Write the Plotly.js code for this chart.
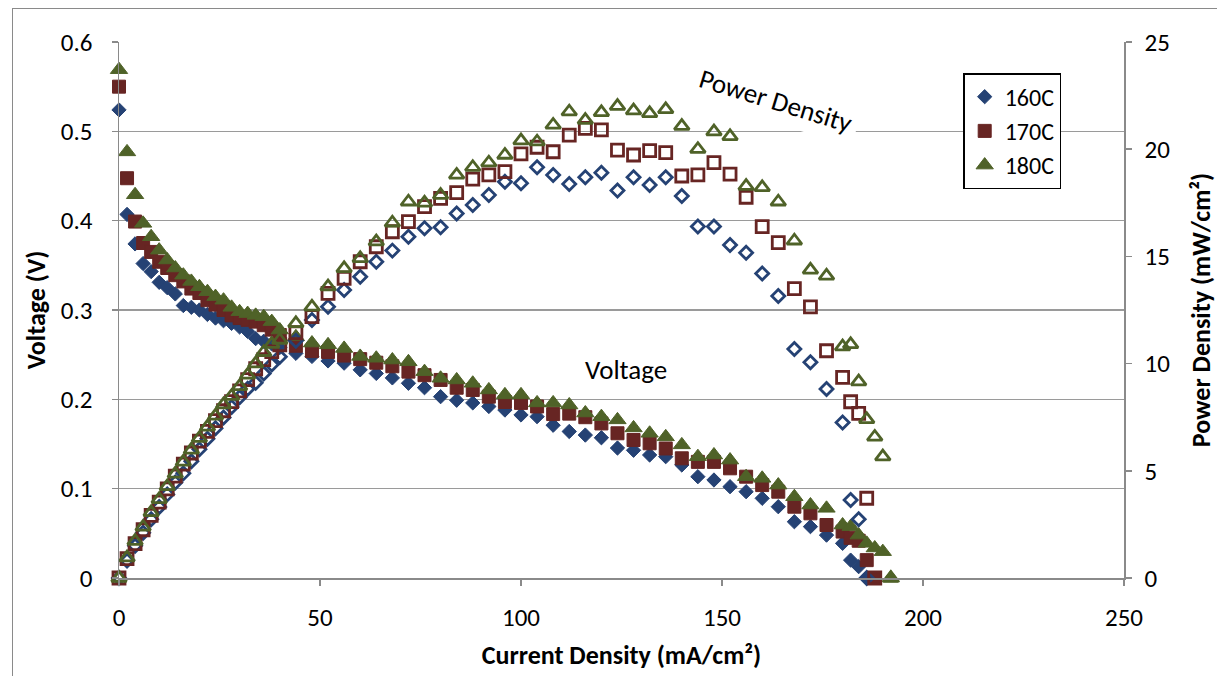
<!DOCTYPE html>
<html><head><meta charset="utf-8">
<script src="https://cdn.plot.ly/plotly-3.0.1.min.js"></script>
<style>
html,body{margin:0;padding:0;overflow:hidden;background:#fff}
#chart{width:1217px;height:676px;}
#frame{position:absolute;left:12px;top:8px;width:1300px;height:800px;border-left:1px solid #8a8a8a;border-top:1px solid #8a8a8a;pointer-events:none}
</style></head><body>
<div id="chart"></div><div id="frame"></div>
<script>
// Current density (mA/cm2)
var curr160 = [0,2,4,6,8,10,12,14,16,18,20,22,24,26,28,30,32,34,36,38,40,44,48,52,56,60,64,68,72,76,80,84,88,92,96,100,104,108,112,116,120,124,128,132,136,140,144,148,152,156,160,164,168,172,176,180,182,184,186];
var curr170 = [0,2,4,6,8,10,12,14,16,18,20,22,24,26,28,30,32,34,36,38,40,44,48,52,56,60,64,68,72,76,80,84,88,92,96,100,104,108,112,116,120,124,128,132,136,140,144,148,152,156,160,164,168,172,176,180,182,184,186,188];
var curr180 = [0,2,4,6,8,10,12,14,16,18,20,22,24,26,28,30,32,34,36,38,40,44,48,52,56,60,64,68,72,76,80,84,88,92,96,100,104,108,112,116,120,124,128,132,136,140,144,148,152,156,160,164,168,172,176,180,182,184,186,188,190,192];

// Voltage (V)
var volt160 = [0.524,0.407,0.374,0.352,0.343,0.331,0.325,0.318,0.305,0.303,0.300,0.295,0.291,0.288,0.285,0.281,0.276,0.268,0.265,0.262,0.258,
  0.2515,0.248,0.243,0.2405,0.233,0.229,0.224,0.218,0.213,0.203,0.199,0.196,0.192,0.188,0.1825,0.1806,0.171,0.164,0.160,0.157,0.1455,0.143,0.1377,0.1358,0.1265,0.1134,0.1097,0.1022,0.0966,0.0892,0.0798,0.063,0.0575,0.048,0.0388,
  0.020,0.0127,0];
var volt170 = [0.550,0.4475,0.399,0.375,0.365,0.354,0.347,0.339,0.332,0.324,0.319,0.311,0.306,0.300,0.294,0.291,0.289,0.287,0.283,0.278,0.272,
  0.260,0.254,0.253,0.249,0.245,0.241,0.237,0.231,0.227,0.2217,0.213,0.2105,0.203,0.197,0.196,0.192,0.1835,0.184,0.180,0.173,0.162,0.1545,0.1508,0.145,0.134,0.130,0.130,0.1228,0.1134,0.104,0.0966,0.0798,0.0724,0.0593,0.052,
  0.045,0.0417,0.020,0];
var volt180 = [0.569,0.477,0.429,0.397,0.382,0.367,0.356,0.347,0.339,0.332,0.326,0.3205,0.315,0.311,0.303,0.298,0.296,0.294,0.2925,0.287,0.2776,
  0.270,0.263,0.261,0.257,0.248,0.246,0.244,0.242,0.231,0.2236,0.2217,0.218,0.2105,0.205,0.205,0.196,0.196,0.1937,0.1847,0.1806,0.177,0.168,0.162,0.158,0.149,0.1358,0.1377,0.132,0.1134,0.1116,0.104,0.091,0.0817,0.078,0.0593,
  0.0575,0.048,0.0388,0.0336,0.0295,0];

// Power density (mW/cm2)
var pow160 = [0,0.81,1.50,2.11,2.74,3.31,3.90,4.45,4.88,5.45,6.00,6.49,6.98,7.49,7.98,8.43,8.83,9.11,9.54,9.96,10.32,
  11.07,12.03,12.65,13.43,14.05,14.75,15.27,15.92,16.31,16.36,17.0,17.4,17.86,18.48,18.41,19.16,18.8,18.38,18.69,18.9,18.07,18.69,18.33,18.69,17.82,16.39,16.39,15.53,15.17,14.2,13.15,10.68,10.06,8.82,7.25,
  3.64,2.74,0];
var pow170 = [0,0.90,1.60,2.25,2.92,3.54,4.16,4.75,5.31,5.83,6.38,6.84,7.34,7.80,8.23,8.73,9.25,9.76,10.19,10.56,10.88,
  11.44,12.19,13.28,13.98,14.75,15.45,16.15,16.62,17.32,17.71,17.97,18.6,18.8,18.95,19.78,20.09,19.88,20.66,20.97,20.9,19.96,19.73,19.93,19.84,18.75,18.8,19.37,18.84,17.76,16.39,15.64,13.5,12.65,10.6,9.36,
  8.22,7.68,3.72,0];
var pow180 = [0,0.95,1.72,2.38,3.06,3.67,4.27,4.86,5.42,5.98,6.52,7.05,7.56,8.09,8.48,8.94,9.47,10.0,10.53,10.91,11.10,
  11.88,12.65,13.59,14.44,14.91,15.69,16.57,17.55,17.5,17.86,18.8,19.16,19.37,19.73,20.4,20.35,21.13,21.75,21.36,21.72,22.01,21.8,21.67,21.86,21.08,20.0,20.82,20.6,18.28,18.22,17.55,15.73,14.37,14.09,10.79,
  10.9,9.16,7.4,6.58,5.66,0];

var seriesNames = ['160C','170C','180C'];
var xTicks = [0,50,100,150,200,250];

var C1 = '#254274', C2 = '#672523', C3 = '#4f6228';
var FONT = 'Carlito, Lato, sans-serif';

function vTrace(x, y, name, color, symbol, size){
  return {x:x, y:y, name:name, type:'scatter', mode:'markers', yaxis:'y', cliponaxis:false,
    legendgroup:name,
    marker:{symbol:symbol, size:size, color:color, line:{width:1, color:color}}};
}
function pTrace(x, y, name, color, symbol, size){
  return {x:x, y:y, name:name+' P', type:'scatter', mode:'markers', yaxis:'y2', cliponaxis:false,
    showlegend:false,
    marker:{symbol:symbol, size:size, color:color, line:{width:2.8, color:color}}};
}

var data = [
  vTrace(curr160, volt160, seriesNames[0], C1, 'diamond', 11),
  vTrace(curr170, volt170, seriesNames[1], C2, 'square', 13),
  vTrace(curr180, volt180, seriesNames[2], C3, 'triangle-up', 15),
  pTrace(curr160, pow160, seriesNames[0], C1, 'diamond-open', 10),
  pTrace(curr170, pow170, seriesNames[1], C2, 'square-open', 12),
  pTrace(curr180, pow180, seriesNames[2], C3, 'triangle-up-open', 13)
];

var layout = {
  width:1217, height:676,
  margin:{l:119, r:93, t:42, b:98},
  paper_bgcolor:'#ffffff', plot_bgcolor:'#ffffff',
  font:{family:FONT, size:25, color:'#000'},
  showlegend:true,
  legend:{x:0.84, y:0.942, xanchor:'left', yanchor:'top', bgcolor:'#fff',
    bordercolor:'#000', borderwidth:1.5, font:{family:FONT, size:24, color:'#000'},
    tracegroupgap:0},
  xaxis:{range:[0,250], tickvals:xTicks, ticks:'outside', ticklen:6, tickcolor:'#8a8a8a', tickwidth:1.5,
    showline:true, linecolor:'#8a8a8a', linewidth:1.5, showgrid:false, zeroline:false,
    ticklabelstandoff:10, tickfont:{family:FONT, size:25},
    title:{text:'Current Density (mA/cm²)', font:{family:FONT, size:26, weight:'bold'}, standoff:14}},
  yaxis:{range:[0,0.6], dtick:0.1, ticks:'outside', ticklen:6, tickcolor:'#8a8a8a', tickwidth:1.5,
    showline:true, linecolor:'#8a8a8a', linewidth:1.5, showgrid:true, gridcolor:'#9a9a9a', gridwidth:1.5,
    zeroline:false, ticklabelstandoff:14, tickfont:{family:FONT, size:25},
    title:{text:'Voltage (V)', font:{family:FONT, size:26, weight:'bold'}, standoff:7}},
  yaxis2:{range:[0,25], dtick:5, overlaying:'y', side:'right', ticks:'outside', ticklen:6, tickcolor:'#8a8a8a', tickwidth:1.5,
    showline:true, linecolor:'#8a8a8a', linewidth:1.5, showgrid:false, zeroline:false, ticklabelstandoff:8,
    tickfont:{family:FONT, size:25},
    title:{text:'Power Density (mW/cm²)', font:{family:FONT, size:26, weight:'bold'}, standoff:34}},
  annotations:[
    {text:'Power Density', xref:'paper', yref:'paper', x:(776-119)/1005, y:(578-100)/536, xanchor:'center', yanchor:'middle',
      showarrow:false, textangle:17, bgcolor:'#ffffff', borderpad:5, font:{family:FONT, size:27, color:'#000'}},
    {text:'Voltage', xref:'paper', yref:'paper', x:(626-119)/1005, y:(578-369)/536, xanchor:'center', yanchor:'middle',
      showarrow:false, font:{family:FONT, size:27, color:'#000'}}
  ]
};

Plotly.newPlot('chart', data, layout, {displayModeBar:false, staticPlot:true});
</script></body></html>
